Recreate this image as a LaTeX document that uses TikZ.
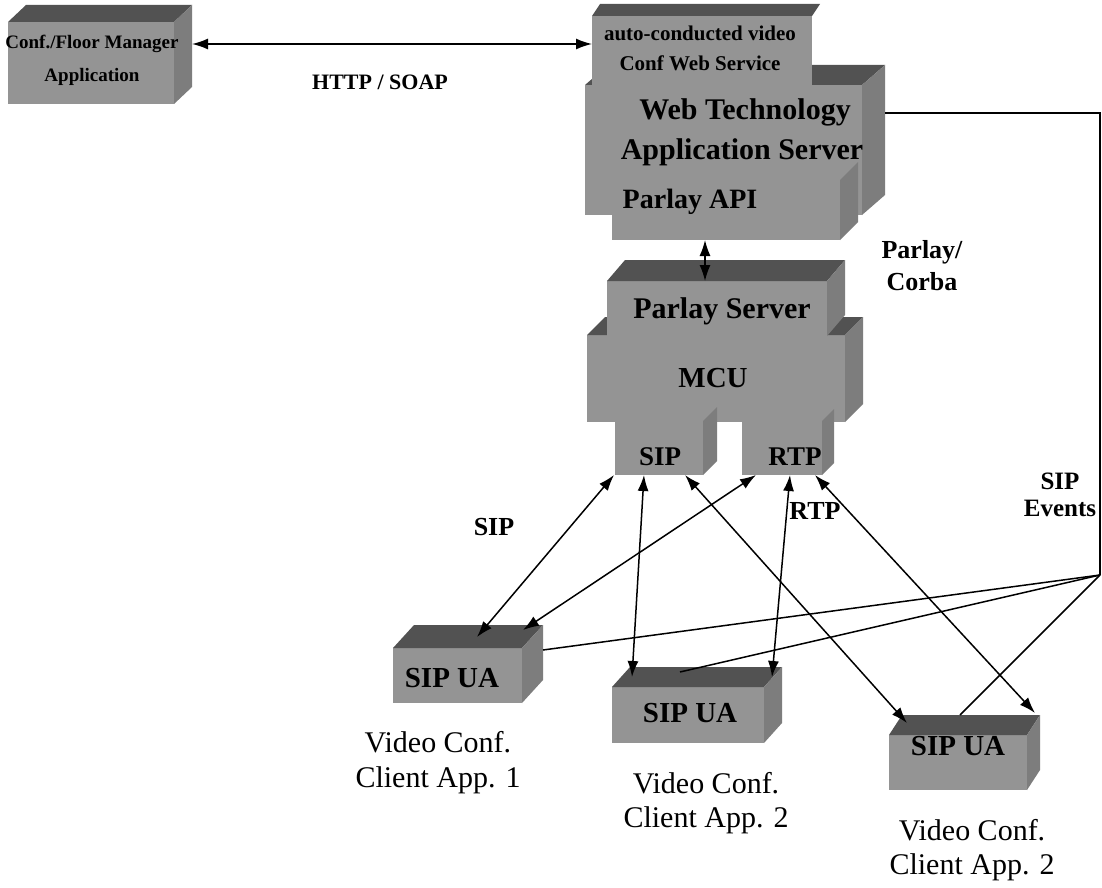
\documentclass[tikz,border=0pt]{standalone}
\usepackage{fontspec}
\setmainfont{Liberation Serif}
\usetikzlibrary{arrows.meta}

\definecolor{facefront}{gray}{0.58}
\definecolor{facetop}{gray}{0.32}
\definecolor{faceside}{gray}{0.49}

% front face of a block: name, x1, y1, x2, y2 (y grows downwards)
\newcommand\boxfront[5]{%
  \node[boxface, minimum width={(#4)-(#2)}, minimum height={(#5)-(#3)},
        anchor=north west] (#1) at (#2,#3) {};}
% top face of a block, receding by (dx, dy)
\newcommand\boxtop[3]{%
  \fill[facetop] (#1.north west) -- ++(#2,-#3) -- ([shift={(#2,-#3)}]#1.north east)
    -- (#1.north east) -- cycle;}
% right side face of a block, receding by (dx, dy)
\newcommand\boxside[3]{%
  \fill[faceside] (#1.north east) -- ++(#2,-#3) -- ([shift={(#2,-#3)}]#1.south east)
    -- (#1.south east) -- cycle;}

\tikzset{
  boxface/.style={fill=facefront, draw=none, inner sep=0pt, outer sep=0pt},
  boxtxt/.style={font=\bfseries\fontsize{#1}{#1}\selectfont, inner sep=0pt},
  lbl/.style={font=\bfseries\fontsize{#1}{#1}\selectfont, inner sep=0pt},
  captxt/.style={font=\fontsize{30}{30}\selectfont, inner sep=0pt},
  conn/.style={line width=1.5pt, {Latex[length=16pt,width=11pt]}-{Latex[length=16pt,width=11pt]}},
  evt/.style={line width=1.5pt}
}

\begin{document}
\begin{tikzpicture}[x=1pt, y=-1pt]
\fill[white] (0,0) rectangle (1102,888);
\useasboundingbox (0,0) rectangle (1102,888);

% ---- floor manager application
\boxfront{fm}{8}{22}{174}{104}
\boxtop{fm}{18}{17}
\boxside{fm}{18}{17}
\node[boxtxt=19] (fmt1) at (92,44) {Conf./Floor Manager};
\node[boxtxt=19] (fmt2) at (92,77) {Application};

% ---- web application server stack
\boxfront{web}{585}{85}{862}{215}
\boxtop{web}{23}{20}
\boxside{web}{23}{20}
\boxfront{svc}{592}{16}{812}{86}
\boxtop{svc}{8}{12}
\boxfront{api}{612}{180}{840}{240}
\boxside{api}{18}{18}
\node[boxtxt=21] (svct1) at (700,33) {auto-conducted video};
\node[boxtxt=21] (svct2) at (700,63) {Conf Web Service};
\node[boxtxt=30] (webt1) at (745,112) {Web Technology};
\node[boxtxt=30] (webt2) at (742,152) {Application Server};
\node[boxtxt=28] (apit) at (690,202) {Parlay API};

% ---- MCU with Parlay server and ports
\boxfront{mcu}{587}{335}{845}{422}
\boxtop{mcu}{18}{18}
\boxside{mcu}{18}{18}
\boxfront{ps}{607}{281}{827}{336}
\boxtop{ps}{18}{21}
\boxside{ps}{18}{21}
\boxfront{sipp}{615}{421}{703}{475}
\boxside{sipp}{14}{14}
\boxfront{rtpp}{742}{421}{822}{475}
\boxside{rtpp}{12}{12}
\node[boxtxt=30] (pst) at (722,311) {Parlay Server};
\node[boxtxt=29] (mcut) at (713,378) {MCU};
\node[boxtxt=27] (sipt) at (660,457) {SIP};
\node[boxtxt=27] (rtpt) at (795,457) {RTP};

% ---- SIP user agents
\boxfront{ua1}{393}{648}{522}{703}
\boxtop{ua1}{21}{23}
\boxside{ua1}{21}{23}
\boxfront{ua2}{612}{687}{764}{743}
\boxtop{ua2}{18}{20}
\boxside{ua2}{18}{20}
\boxfront{ua3}{889}{735}{1027}{790}
\boxtop{ua3}{13}{20}
\boxside{ua3}{13}{20}
\node[boxtxt=29] (ua1t) at (452,678) {SIP UA};
\node[boxtxt=29] (ua2t) at (690,713) {SIP UA};
\node[boxtxt=29] (ua3t) at (958,746) {SIP UA};
\node[captxt] (c1a) at (438,742) {Video Conf.};
\node[captxt] (c1b) at (438,780) {Client App. 1};
\node[captxt] (c2a) at (706,783) {Video Conf.};
\node[captxt] (c2b) at (706,820) {Client App. 2};
\node[captxt] (c3a) at (972,830) {Video Conf.};
\node[captxt] (c3b) at (972,867) {Client App. 2};

% ---- protocol labels
\node[lbl=22] (http) at (380,82) {HTTP / SOAP};
\node[lbl=26] (pc1) at (922,252) {Parlay/};
\node[lbl=26] (pc2) at (922,282) {Corba};
\node[lbl=26] (siplbl) at (494,527) {SIP};
\node[lbl=26] (rtplbl) at (815,511) {RTP};
\node[lbl=25] (ev1) at (1060,481) {SIP};
\node[lbl=25] (ev2) at (1060,508) {Events};

% ---- connectors
\draw[conn] ([shift={(18,22)}]fm.north east) -- ([shift={(0,28)}]svc.north west);
\draw[conn] ([xshift=93pt]api.south west) -- ([shift={(98,0)}]ps.north west);

\draw[conn] ([xshift=-1pt]sipp.south west) -- ([shift={(84,-11)}]ua1.north west);
\draw[conn] ([xshift=14pt]rtpp.south west) -- ([shift={(130,-18)}]ua1.north west);
\draw[conn] ([xshift=29pt]sipp.south west) -- ([shift={(20,-10)}]ua2.north west);
\draw[conn] ([xshift=48pt]rtpp.south west) -- ([shift={(160,-10)}]ua2.north west);
\draw[conn] ([xshift=70pt]sipp.south west) -- ([shift={(18,-12)}]ua3.north west);
\draw[conn] ([xshift=73pt]rtpp.south west) -- ([shift={(146,-22)}]ua3.north west);

% ---- SIP event notification lines
\coordinate (corner) at (1100,113);
\coordinate (jn) at (1100,575);
\draw[evt] ([shift={(23,28)}]web.north east) -- (corner) -- (jn);
\draw[evt] (jn) -- ([shift={(21,2)}]ua1.north east);
\draw[evt] (jn) -- ([shift={(68,-15)}]ua2.north west);
\draw[evt] (jn) -- ([shift={(71,-20)}]ua3.north west);
\end{tikzpicture}
\end{document}
